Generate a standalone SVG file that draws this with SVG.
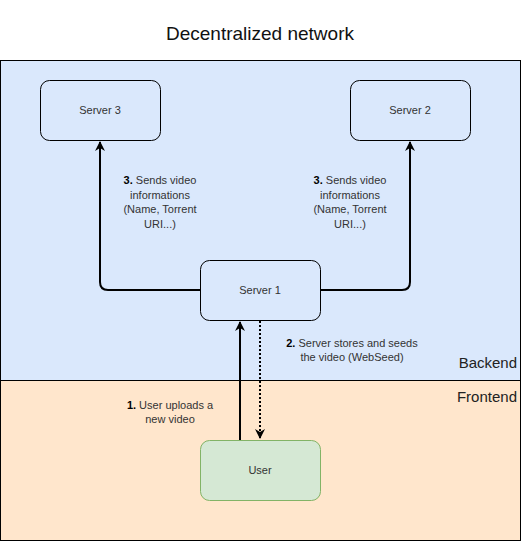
<svg xmlns="http://www.w3.org/2000/svg" width="521" height="541" viewBox="0 0 521 541">
<style>
text{font-family:"Liberation Sans",Arial,sans-serif;}
.lane{stroke:#000;stroke-width:1;}
.srv{fill:#dae8fc;stroke:#000;stroke-width:1;}
.usr{fill:#d5e8d4;stroke:#82b366;stroke-width:1;}
.nl{font-size:11px;fill:#333;text-anchor:middle;}
.el{font-size:11px;fill:#333;text-anchor:middle;}
.el tspan.b{font-weight:bold;fill:#000;}
.lt{font-size:15px;fill:#222;text-anchor:end;}
.edge{fill:none;stroke:#000;stroke-width:2;}
.dot{fill:none;stroke:#000;stroke-width:2;stroke-dasharray:2 2;}
</style>
<defs>
<marker id="ah" viewBox="0 0 10 10" refX="9" refY="5" markerWidth="5" markerHeight="5" orient="auto" markerUnits="strokeWidth">
<path d="M0,0 L10,5 L0,10 L3,5 Z" fill="#000"/>
</marker>
</defs>
<rect width="521" height="541" fill="#fff"/>
<text x="260" y="40" font-size="19" fill="#111" text-anchor="middle" style="font-family:'Liberation Sans',Arial,sans-serif">Decentralized network</text>
<g id="backend">
<rect class="lane" x="0.5" y="60.5" width="520" height="320" fill="#dae8fc"/>
<text class="lt" x="517" y="368">Backend</text>
</g>
<g id="frontend">
<rect class="lane" x="0.5" y="380.5" width="520" height="160" fill="#ffe6cc"/>
<text class="lt" x="517" y="402">Frontend</text>
</g>
<g id="connectors">
<path class="edge" d="M200,290 H108 Q100,290 100,282 V142" marker-end="url(#ah)"/>
<path class="edge" d="M320,290 H402 Q410,290 410,282 V142" marker-end="url(#ah)"/>
<path class="edge" d="M240,440 V322" marker-end="url(#ah)"/>
<path class="dot" d="M260,321 V438" marker-end="url(#ah)"/>
<text class="el" x="160" y="184"><tspan class="b">3.</tspan> Sends video</text>
<text class="el" x="160" y="198.5">informations</text>
<text class="el" x="160" y="213">(Name, Torrent</text>
<text class="el" x="160" y="227.5">URI...)</text>
<text class="el" x="350" y="184"><tspan class="b">3.</tspan> Sends video</text>
<text class="el" x="350" y="198.5">informations</text>
<text class="el" x="350" y="213">(Name, Torrent</text>
<text class="el" x="350" y="227.5">URI...)</text>
<text class="el" x="352" y="346.5"><tspan class="b">2.</tspan> Server stores and seeds</text>
<text class="el" x="352" y="361">the video (WebSeed)</text>
<text class="el" x="170" y="409"><tspan class="b">1.</tspan> User uploads a</text>
<text class="el" x="170" y="423">new video</text>
</g>
<g id="server3">
<rect class="srv" x="40.5" y="80.5" width="120" height="60" rx="9"/>
<text class="nl" x="100" y="114">Server 3</text>
</g>
<g id="server2">
<rect class="srv" x="350.5" y="80.5" width="120" height="60" rx="9"/>
<text class="nl" x="410" y="114">Server 2</text>
</g>
<g id="server1">
<rect class="srv" x="200.5" y="260.5" width="120" height="60" rx="9"/>
<text class="nl" x="260" y="294">Server 1</text>
</g>
<g id="user">
<rect class="usr" x="200.5" y="440.5" width="120" height="60" rx="9"/>
<text class="nl" x="260" y="474">User</text>
</g>
</svg>
